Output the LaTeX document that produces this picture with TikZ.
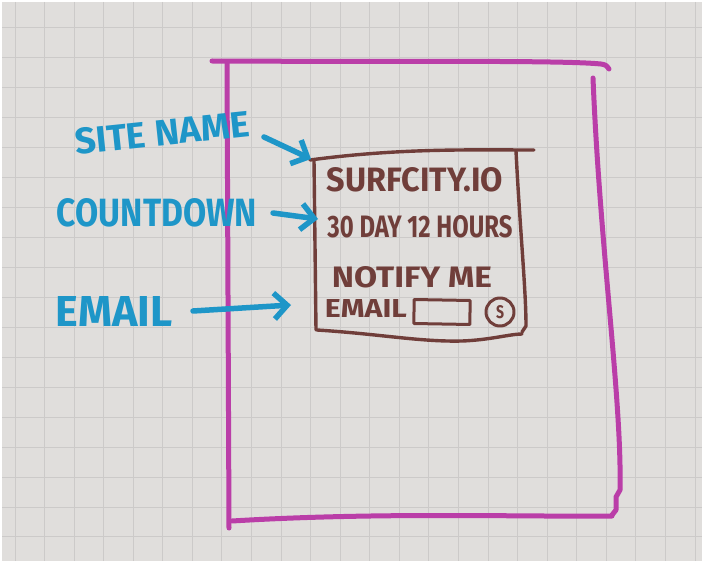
\documentclass[tikz,border=0pt]{standalone}
\usepackage{fontspec}
\setmainfont{Fira Sans}
\usetikzlibrary{arrows.meta}

\definecolor{paper}{RGB}{224,222,220}
\definecolor{gridline}{RGB}{204,202,201}
\definecolor{marker}{RGB}{186,62,168}
\definecolor{ink}{RGB}{112,62,58}
\definecolor{pen}{RGB}{30,150,200}

% marker lettering stretched to a given width and cap height
\newcommand{\handtxt}[3]{\resizebox{#1pt}{#2pt}{\bfseries #3}}

\begin{document}
\begin{tikzpicture}[x=1pt,y=-1pt,
  frame/.style={draw=marker, line width=5pt, line cap=round, line join=round},
  panel/.style={draw=ink, line width=3.4pt, line cap=round, line join=round},
  callout/.style={draw=pen, line width=5.5pt, line cap=round, line join=round,
    -{Straight Barb[length=13pt,width=26pt]}},
  label/.style={inner sep=0pt, text=pen},
  entry/.style={inner sep=0pt, text=ink}]

\useasboundingbox (0,0) rectangle (702,567);

% sheet of squared paper
\fill[white] (0,0) rectangle (702,567);
\fill[paper] (2,2) rectangle (702,561);
\foreach \i in {0,...,23}
  \draw[gridline, line width=1pt] ({15+29.57*\i},2) -- ({15+29.57*\i},561);
\foreach \j in {0,...,17}
  \draw[gridline, line width=1pt] (2,{28+29.94*\j}) -- (702,{28+29.94*\j});

% page outline
\draw[frame] (212,61) .. controls (400,62) and (560,60) .. (601,64) .. controls (606,65) .. (609,69);
\draw[frame] (227,63) -- (229,528);
\draw[frame] (593,78) .. controls (600,250) and (622,400) .. (620,490) -- (616,497) -- (616,510) -- (612,515);
\draw[frame] (232,521) .. controls (380,512) and (520,517) .. (612,516);

% widget panel
\draw[panel] (310,160) .. controls (400,148) and (470,150) .. (534,150);
\draw[panel] (314,160) -- (316,330);
\draw[panel] (516,151) .. controls (520,230) and (526,290) .. (526,326) -- (522,332);
\draw[panel] (317,330) .. controls (380,334) and (420,342) .. (462,341) .. controls (490,340) and (510,334) .. (522,334);

% panel contents
\node[entry] (site)  at (415,180) {\handtxt{176}{24}{SURFCITY.IO}};
\node[entry] (count) at (420,227) {\handtxt{185}{22}{30 DAY 12 HOURS}};
\node[entry] (notify) at (412,277) {\handtxt{160}{21}{NOTIFY ME}};
\node[entry] (mail)  at (366,308) {\handtxt{82}{18}{EMAIL}};
\node[panel, inner sep=0pt, minimum width=56pt, minimum height=24pt, line width=3pt, rotate=-1] (field) at (442,312) {};
\node[panel, circle, inner sep=0pt, minimum size=28pt, line width=3pt, text=ink] (send) at (500,312) {\handtxt{8}{13}{S}};

% annotations
\node[label, rotate=6] (lsite) at (162,133) {\handtxt{175}{26}{SITE NAME}};
\node[label] (lcount) at (157,213) {\handtxt{200}{28}{COUNTDOWN}};
\node[label] (lmail)  at (114,311) {\handtxt{117}{30}{EMAIL}};

\coordinate (siteFrom)  at (264,137);
\coordinate (siteTo)    at (311,159);
\coordinate (countFrom) at (273,213);
\coordinate (countTo)   at (318,219);
\coordinate (mailFrom)  at (193,311);
\coordinate (mailTo)    at (291,305);

\draw[callout] (siteFrom) -- (siteTo);
\draw[callout] (countFrom) -- (countTo);
\draw[callout] (mailFrom) -- (mailTo);
\end{tikzpicture}
\end{document}
